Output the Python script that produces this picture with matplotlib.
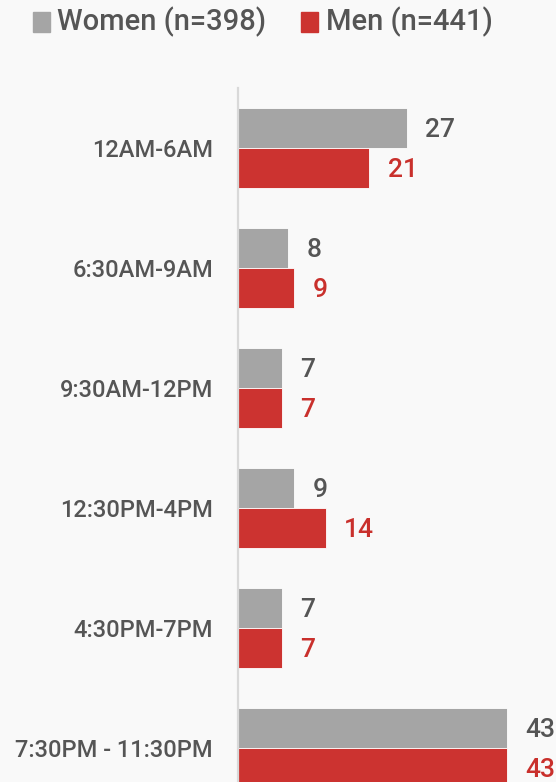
import matplotlib.pyplot as plt
import numpy as np

# data
categories = ["12AM-6AM", "6:30AM-9AM", "9:30AM-12PM", "12:30PM-4PM", "4:30PM-7PM", "7:30PM - 11:30PM"]
women = [27, 8, 7, 9, 7, 43]
men = [21, 9, 7, 14, 7, 43]
legend_labels = ["Women (n=398)", "Men (n=441)"]

# colours
grey_bar = "#a5a5a5"
red_bar = "#cc3330"
grey_txt = "#555555"
red_txt = "#c9302c"
bg = "#f9f9f9"

plt.rcParams["font.family"] = ["Roboto", "DejaVu Sans"]
plt.rcParams["font.weight"] = "medium"

W, H, dpi = 556, 782, 100
fig = plt.figure(figsize=(W / dpi, H / dpi), dpi=dpi, facecolor=bg)

# axes: left edge at x=238px, top at y=88px, groups 120px high (last one cut by the figure)
ax_left = 238 / W
ax_top = 88 / H
ax_h = 720 / H
ax = fig.add_axes([ax_left, 1 - ax_top - ax_h, 1 - ax_left, ax_h])
ax.set_facecolor("none")

y = np.arange(len(categories))
bh = 1 / 3
ax.barh(y - bh / 2, women, height=bh, color=grey_bar, edgecolor="white", linewidth=0.6)
ax.barh(y + bh / 2, men, height=bh, color=red_bar, edgecolor="white", linewidth=0.6)

ax.set_xlim(0, (W - 238) / 6.26)
ax.set_ylim(len(categories) - 0.5, -0.5)

for i in range(len(categories)):
    ax.text(women[i] + 2.9, y[i] - bh / 2 + 0.02, str(women[i]), va="center", ha="left",
            fontsize=19, color=grey_txt, fontweight="medium")
    ax.text(men[i] + 2.9, y[i] + bh / 2 + 0.02, str(men[i]), va="center", ha="left",
            fontsize=19, color=red_txt, fontweight="medium")

ax.set_yticks(y)
ax.set_yticklabels(categories, fontsize=17, color=grey_txt, fontweight="medium")
ax.tick_params(axis="y", length=0, pad=18)
ax.set_xticks([])
for s in ["top", "right", "bottom"]:
    ax.spines[s].set_visible(False)
ax.spines["left"].set_color("#d9d9d9")
ax.spines["left"].set_linewidth(1.6)

# legend
fig.patches.append(plt.Rectangle((33 / W, 1 - 32 / H), 17 / W, 20 / H, transform=fig.transFigure,
                                 color=grey_bar))
fig.text(57 / W, 1 - 22 / H, legend_labels[0], fontsize=21, color=grey_txt, va="center", ha="left",
         fontweight="medium")
fig.patches.append(plt.Rectangle((301 / W, 1 - 32 / H), 17 / W, 20 / H, transform=fig.transFigure,
                                 color=red_bar))
fig.text(326 / W, 1 - 22 / H, legend_labels[1], fontsize=21, color=grey_txt, va="center", ha="left",
         fontweight="medium")

fig.savefig("out.png", dpi=dpi, facecolor=bg)
